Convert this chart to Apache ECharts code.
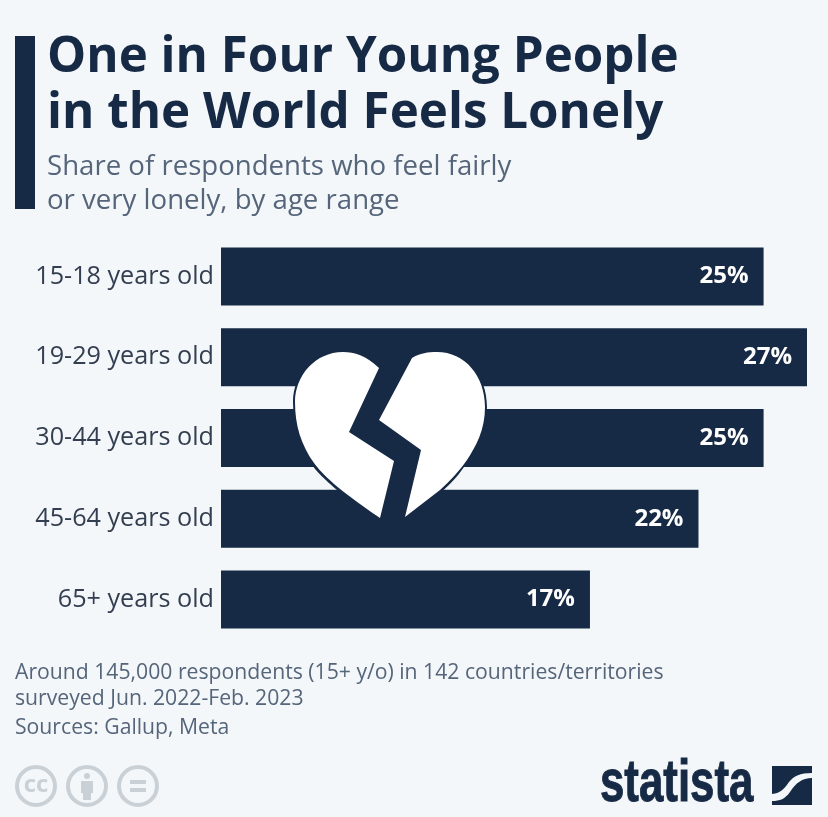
<!DOCTYPE html>
<html>
<head>
<meta charset="utf-8">
<style>
  html, body { margin: 0; padding: 0; background: #f4f7fa; }
  #chart { width: 828px; height: 817px; }
</style>
<script src="https://cdn.jsdelivr.net/npm/echarts@6/dist/echarts.min.js"></script>
</head>
<body>
<div id="chart"></div>
<script>
const categories = ['15-18 years old', '19-29 years old', '30-44 years old', '45-64 years old', '65+ years old']
const shares = [25, 27, 25, 22, 17]

const titleText = 'One in Four Young People\nin the World Feels Lonely'
const subtitleText = 'Share of respondents who feel fairly\nor very lonely, by age range'
const noteText = 'Around 145,000 respondents (15+ y/o) in 142 countries/territories\nsurveyed Jun. 2022-Feb. 2023'
const sourceText = 'Sources: Gallup, Meta'

const navy = '#172a45'
const grey = '#c9d1d7'
const font = '"Open Sans", sans-serif'

// heart and logo outlines
const heartWhole = 'M390 366C378 354 360 350 343 350C315 350 293 374 293 402C293 425 299 447 312 465C322 478 335 490 392 532L441 492C450 485 460 474 468 461C478 447 487 430 487 407C487 374 465 350 437 350C420 350 402 354 390 366Z'
const heartLeft = 'M379 368C365 355 355 352 343 352C315 352 295 376 295 402C295 425 301 445 314 463C323 475 335 487 380 518L394 461L349 432Z'
const heartRight = 'M412 358C420 353 428 352 437 352C465 352 485 376 485 407C485 430 476 446 467 460C460 470 450 481 440 490L405 517L421 450L379 420Z'
const logoMark = 'M772 766H812V773C800 773 794 776 789 782C784 789 781 793 772 794ZM772 801C780 801 785 799 790 792C796 783 802 778 812 778V805H772Z'

const renderPaths = () => ({
  type: 'group',
  children: [
    { type: 'path', shape: { pathData: heartWhole }, style: { fill: navy } },
    { type: 'path', shape: { pathData: heartLeft }, style: { fill: '#fff' } },
    { type: 'path', shape: { pathData: heartRight }, style: { fill: '#fff' } },
    { type: 'path', shape: { pathData: logoMark }, style: { fill: navy } },
  ],
})

const chart = echarts.init(document.getElementById('chart'))

chart.setOption({
  backgroundColor: '#f4f7fa',
  animation: false,
  grid: { left: 221, top: 236, width: 586, height: 404 },
  xAxis: { type: 'value', min: 0, max: 27, show: false },
  yAxis: {
    type: 'category',
    inverse: true,
    data: categories,
    axisLine: { show: false },
    axisTick: { show: false },
    axisLabel: { color: '#333f50', fontFamily: font, fontSize: 25.2, margin: 7, padding: [4, 0, 0, 0] },
  },
  series: [
    {
      type: 'bar',
      data: shares,
      barWidth: 58,
      itemStyle: { color: navy },
      label: {
        show: true,
        position: 'insideRight',
        distance: 15,
        formatter: '{c}%',
        color: '#fff',
        fontFamily: font,
        fontWeight: 'bold',
        fontSize: 24,
      },
    },
    {
      type: 'custom',
      coordinateSystem: 'none',
      silent: true,
      z: 10,
      data: [0],
      renderItem: renderPaths,
    },
  ],
  graphic: [
    { type: 'rect', shape: { x: 15, y: 36, width: 20, height: 173 }, style: { fill: navy } },
    { type: 'text', x: 47, y: 30, style: { text: titleText, fill: navy, font: 'bold 49.3px ' + font, lineHeight: 56 } },
    { type: 'text', x: 47, y: 150, style: { text: subtitleText, fill: '#55657a', font: '27.6px ' + font, lineHeight: 34 } },
    { type: 'text', x: 15, y: 660, style: { text: noteText, fill: '#55657a', font: '21.2px ' + font, lineHeight: 26 } },
    { type: 'text', x: 15, y: 717, style: { text: sourceText, fill: '#55657a', font: '21.2px ' + font } },

    { type: 'circle', shape: { cx: 36, cy: 786, r: 19 }, style: { fill: 'none', stroke: grey, lineWidth: 4 } },
    { type: 'text', x: 36, y: 785, style: { text: 'cc', fill: grey, font: 'bold 24px ' + font, align: 'center', verticalAlign: 'middle' } },
    { type: 'circle', shape: { cx: 87, cy: 786, r: 19 }, style: { fill: 'none', stroke: grey, lineWidth: 4 } },
    { type: 'circle', shape: { cx: 87, cy: 776, r: 3 }, style: { fill: grey } },
    { type: 'rect', shape: { x: 81, y: 781, width: 12, height: 12 }, style: { fill: grey } },
    { type: 'rect', shape: { x: 83, y: 790, width: 8, height: 10 }, style: { fill: grey } },
    { type: 'circle', shape: { cx: 138, cy: 786, r: 19 }, style: { fill: 'none', stroke: grey, lineWidth: 4 } },
    { type: 'rect', shape: { x: 130, y: 780, width: 16, height: 4 }, style: { fill: grey } },
    { type: 'rect', shape: { x: 130, y: 788, width: 16, height: 4 }, style: { fill: grey } },

    { type: 'text', x: 600, y: 754, scaleX: 0.73, style: { text: 'statista', fill: navy, stroke: navy, lineWidth: 1, font: 'bold 60px "Liberation Sans", sans-serif' } },
  ],
})
</script>
</body>
</html>
